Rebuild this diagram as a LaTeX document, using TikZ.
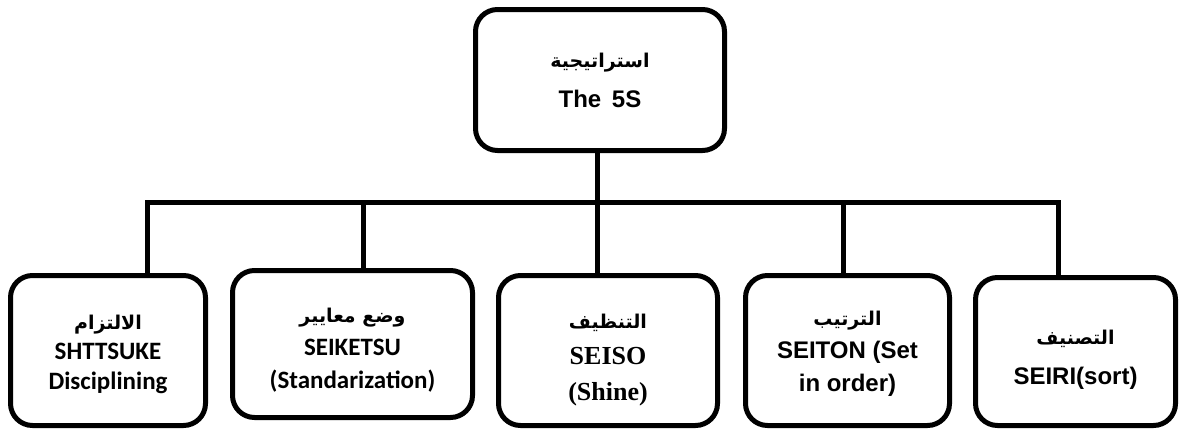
\documentclass[tikz,border=0pt]{standalone}
\usepackage{fontspec}
\TeXXeTstate=1
\newfontfamily\arabicfont[Script=Arabic]{DejaVu Sans}
\newfontfamily\fCal{Carlito}
\newfontfamily\fArial{Liberation Sans}
\newfontfamily\fTimes{Liberation Serif}
\newcommand\ar[2][0pt]{\rule{0pt}{#1}{\arabicfont\bfseries\fontsize{19}{24}\selectfont\beginR #2\endR}}
\begin{document}
\begin{tikzpicture}[x=1pt,y=-1pt,
  box/.style={draw=black,line width=5pt,rounded corners=22pt,align=center,inner sep=0pt},
  conn/.style={draw=black,line width=5pt,line join=miter}]
\useasboundingbox (0,0) rectangle (1188,431);
\node[box,minimum width=249pt,minimum height=141pt,font=\fArial\bfseries\fontsize{24}{40}\selectfont] (top) at (600,80) {\ar{استراتيجية}\\The\ \,5S};
\node[box,minimum width=195pt,minimum height=150pt,font=\fCal\bfseries\fontsize{25}{30}\selectfont] (b1) at (108,350.5) {\ar[22pt]{الالتزام}\\SHTTSUKE\\Disciplining};
\node[box,minimum width=240pt,minimum height=147pt,font=\fCal\bfseries\fontsize{25}{33}\selectfont] (b2) at (352.5,344) {\ar[27pt]{وضع معايير}\\SEIKETSU\\(Standarization)};
\node[box,minimum width=219pt,minimum height=150pt,font=\fTimes\bfseries\fontsize{26}{36}\selectfont] (b3) at (608,350.5) {\ar[33pt]{التنظيف}\\SEISO\\(Shine)};
\node[box,minimum width=204pt,minimum height=150pt,font=\fArial\bfseries\fontsize{24}{33}\selectfont] (b4) at (847.5,350.5) {\ar[21pt]{الترتيب}\\SEITON (Set\\in order)};
\node[box,minimum width=200pt,minimum height=148pt,font=\fArial\bfseries\fontsize{24}{40}\selectfont] (b5) at (1075.5,351.5) {\ar[30pt]{التصنيف}\\SEIRI(sort)};
\coordinate (j1) at (147,202);
\coordinate (j2) at (363,202);
\coordinate (j3) at (597,202);
\coordinate (j4) at (843,202);
\coordinate (j5) at (1058,202);
\draw[conn] (j1 |- b1.north) -- (j1) -- (j5) -- (j5 |- b5.north);
\draw[conn] (j3 |- top.south) -- (j3) -- (j3 |- b3.north);
\draw[conn] (j2) -- (j2 |- b2.north);
\draw[conn] (j4) -- (j4 |- b4.north);
\end{tikzpicture}
\end{document}
